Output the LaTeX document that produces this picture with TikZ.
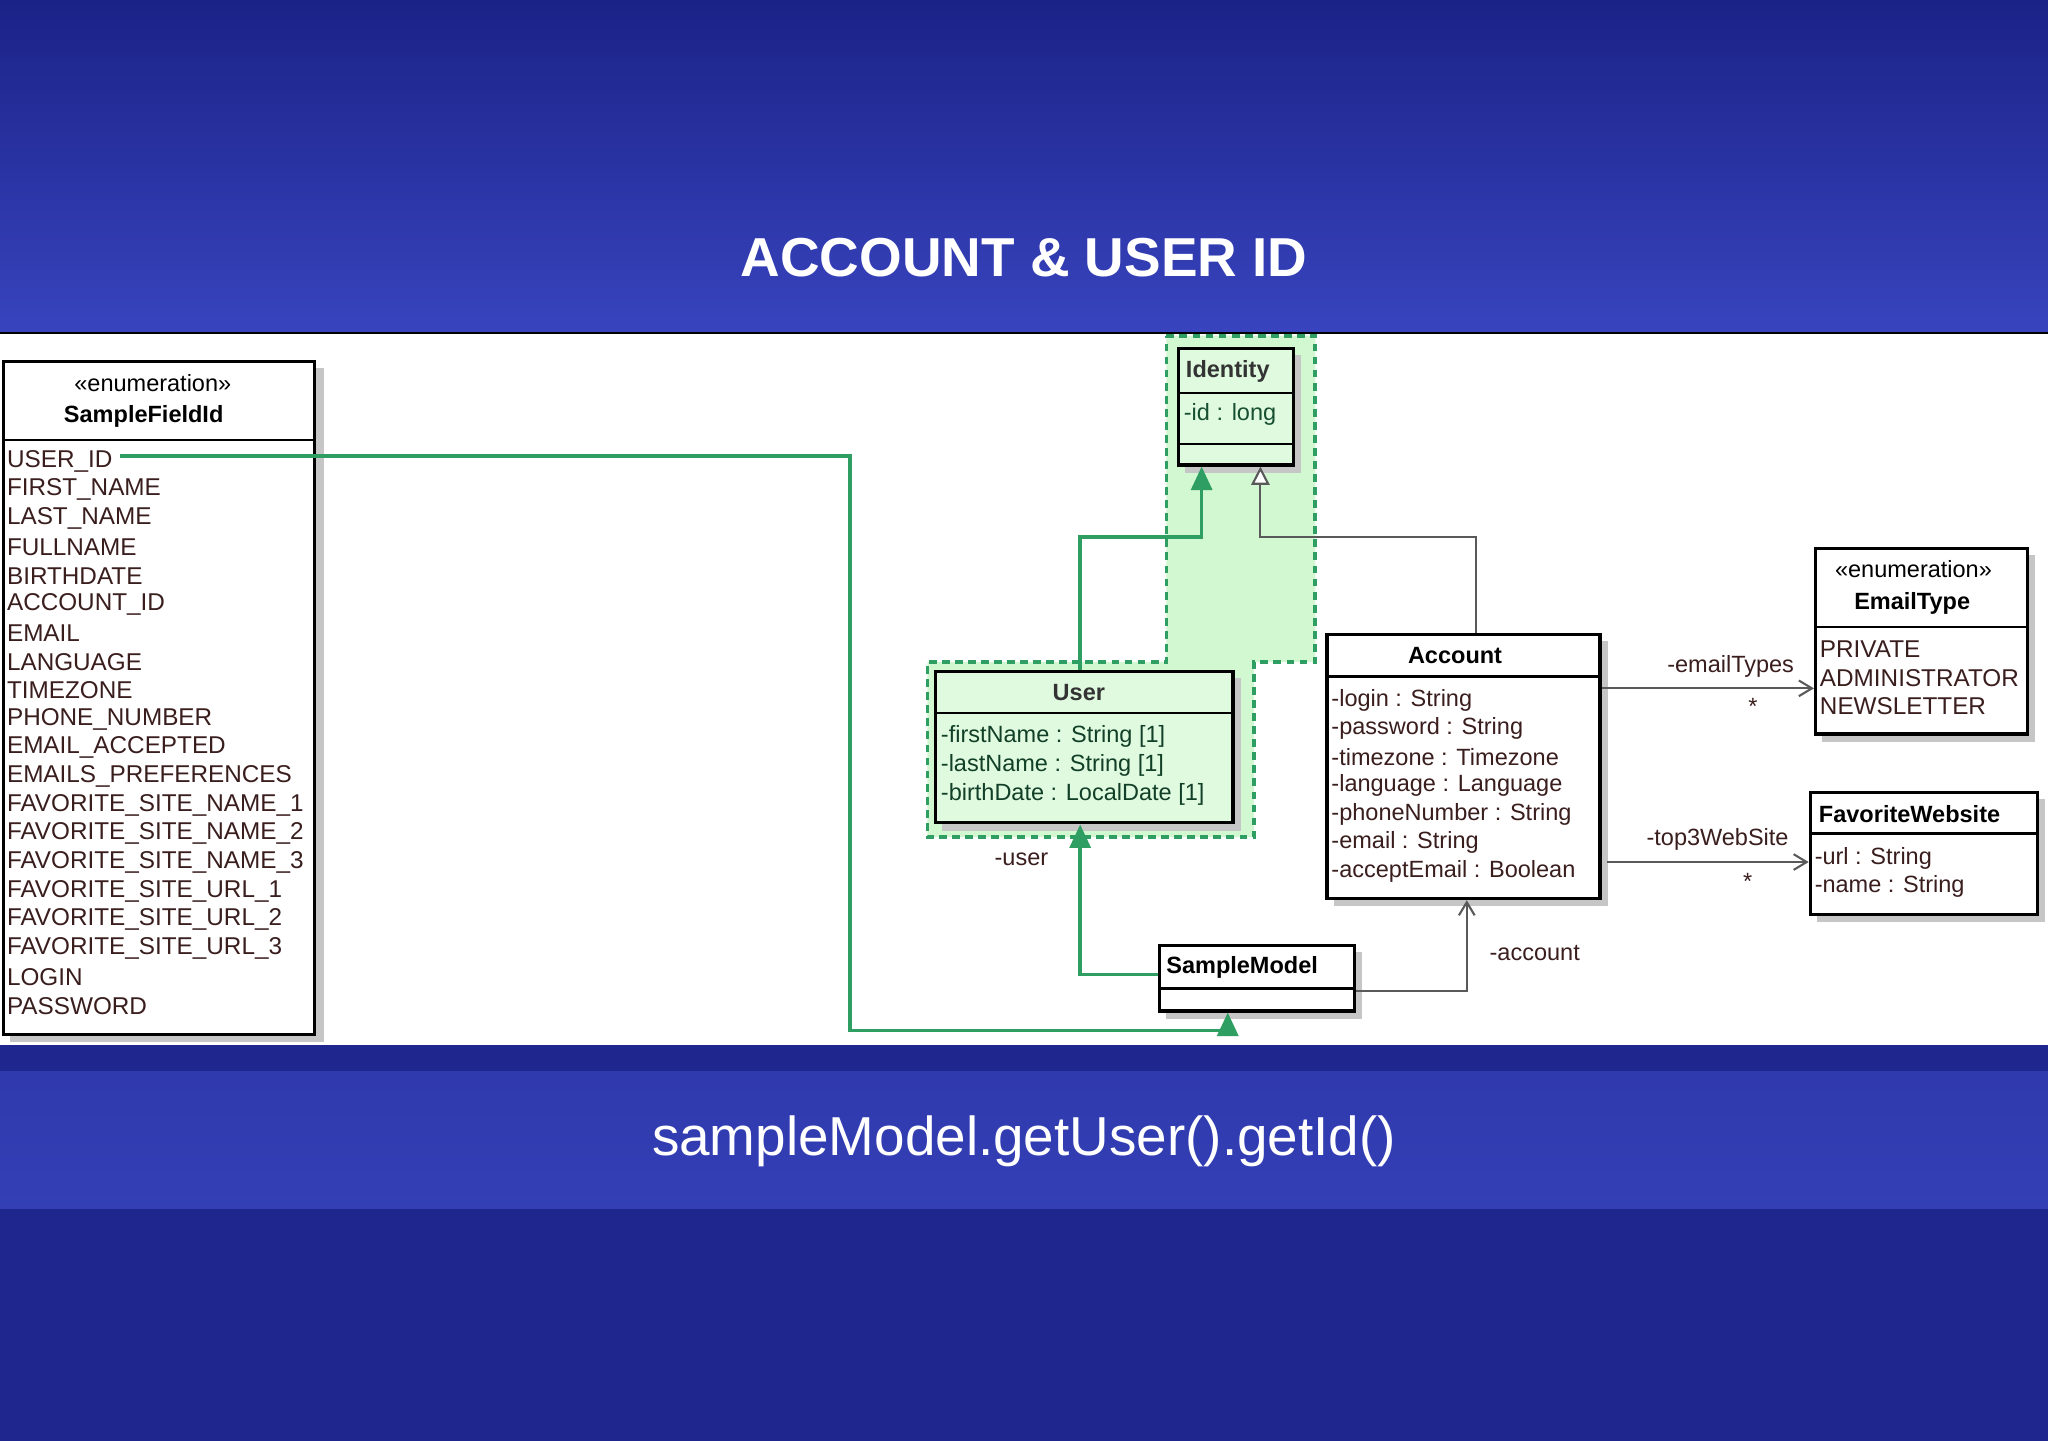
\documentclass[tikz,border=0pt]{standalone}
\usepackage{fontspec}
\setmainfont{Liberation Sans}
\usetikzlibrary{fit,arrows.meta}
\definecolor{bgdark}{HTML}{1B2287}
\definecolor{bglight}{HTML}{3844BE}
\definecolor{umlgreen}{HTML}{2E9E62}
\definecolor{zone}{HTML}{D2F8D2}
\definecolor{txt}{HTML}{3A1E1E}
\tikzset{
 box/.style={draw=black,line width=1.2pt,fill=white,inner sep=0pt},
 gbox/.style={box,fill=zone!70!white},
 sh/.style={fill=gray!45,draw=none},
 lbl/.style={font=\fontsize{9}{10}\selectfont,text=txt,inner sep=0pt,anchor=west},
 enl/.style={lbl,font=\fontsize{9.3}{10}\selectfont},
 ttl/.style={font=\fontsize{9}{10}\selectfont\bfseries,text=black,inner sep=0pt},
 glink/.style={draw=umlgreen,line width=1.4pt},
 gray link/.style={draw=gray!70!black,line width=0.8pt},
 garrow/.style={-{Triangle[length=9pt,width=8pt]}},
 openinh/.style={-{Triangle[open,length=7pt,width=7pt,fill=white]}},
 openarr/.style={-{Straight Barb[length=5pt,width=6pt]}},
}
\begin{document}
\begin{tikzpicture}[x=0.5pt,y=-0.5pt]
\useasboundingbox (0,0) rectangle (1568,1103);
\shade[top color=bgdark,bottom color=bglight] (0,0) rectangle (1568,255);
\fill[bgdark!85!bglight] (0,800) rectangle (1568,1103);
\shade[top color=bglight!70!bgdark,bottom color=bglight!85!bgdark] (0,820) rectangle (1568,925);
\fill[white] (0,255) rectangle (1568,800);
\draw[black,line width=1pt] (0,255) -- (1568,255);
\node[font=\fontsize{21}{24}\selectfont\bfseries,text=white] (title) at (784,197) {ACCOUNT \& USER ID};
\node[font=\fontsize{21}{24}\selectfont,text=white] (code) at (784,874) {sampleModel.getUser().getId()};

\fill[zone,draw=umlgreen,line width=1.4pt,dash pattern=on 3pt off 2pt]
 (893,257) -- (1007,257) -- (1007,507) -- (960,507) -- (960,641) -- (710,641) -- (710,507) -- (893,507) -- cycle;

\fill[sh] (8,282) rectangle (248,798);
\fill[sh] (907,272) rectangle (996,362);
\fill[sh] (721,519) rectangle (950,636);
\fill[sh] (1021,491) rectangle (1231,694);
\fill[sh] (1395,425) rectangle (1558,568);
\fill[sh] (1391,612) rectangle (1566,706);
\fill[sh] (893,729) rectangle (1043,780);

\node[box,fit={(3,277)(241,792)}] (sfi) {};
\draw[line width=1pt] (3,337) -- (241,337);
\node[font=\fontsize{9}{10}\selectfont,inner sep=0pt] (sfis) at (117,293) {«enumeration»};
\node[ttl] (sfin) at (110,319) {SampleFieldId};
\foreach \t [count=\i from 0] in {USER\_ID,FIRST\_NAME,LAST\_NAME,FULLNAME,BIRTHDATE,ACCOUNT\_ID,EMAIL,LANGUAGE,TIMEZONE,PHONE\_NUMBER,EMAIL\_ACCEPTED,EMAILS\_PREFERENCES,FAVORITE\_SITE\_NAME\_1,FAVORITE\_SITE\_NAME\_2,FAVORITE\_SITE\_NAME\_3,FAVORITE\_SITE\_URL\_1,FAVORITE\_SITE\_URL\_2,FAVORITE\_SITE\_URL\_3,LOGIN,PASSWORD}
  \node[enl] (f\i) at (5,353+21.95*\i) {\t};

\node[gbox,fit={(902,267)(990,356)}] (identity) {};
\draw[line width=1pt] (902,301) -- (990,301) (902,340) -- (990,340);
\node[ttl,text=black!80] (idn) at (940,284) {Identity};
\node[lbl,text=umlgreen!50!black] (ida) at (906,317) {-id : long};

\node[gbox,fit={(716,514)(944,630)}] (user) {};
\draw[line width=1pt] (716,546) -- (944,546);
\node[ttl,text=black!80] (usern) at (826,530) {User};
\node[lbl,text=umlgreen!40!black] (u1) at (720,564) {-firstName : String [1]};
\node[lbl,text=umlgreen!40!black] (u2) at (720,586) {-lastName : String [1]};
\node[lbl,text=umlgreen!40!black] (u3) at (720,608) {-birthDate : LocalDate [1]};

\node[box,fit={(1016,486)(1225,688)}] (account) {};
\draw[line width=1pt] (1016,518) -- (1225,518);
\node[ttl] (accn) at (1114,502) {Account};
\foreach \t [count=\i from 0] in {-login : String,-password : String,-timezone : Timezone,-language : Language,-phoneNumber : String,-email : String,-acceptEmail : Boolean}
  \node[lbl] (a\i) at (1019,536+21.8*\i) {\t};

\node[box,fit={(1390,420)(1552,562)}] (emailtype) {};
\draw[line width=1pt] (1390,480) -- (1552,480);
\node[font=\fontsize{9}{10}\selectfont,inner sep=0pt] (ets) at (1465,436) {«enumeration»};
\node[ttl] (etn) at (1464,462) {EmailType};
\node[enl] (e1) at (1393,497) {PRIVATE};
\node[enl] (e2) at (1393,519) {ADMINISTRATOR};
\node[enl] (e3) at (1393,541) {NEWSLETTER};

\node[box,fit={(1386,607)(1560,700)}] (fav) {};
\draw[line width=1pt] (1386,638) -- (1560,638);
\node[ttl] (favn) at (1462,623) {FavoriteWebsite};
\node[lbl] (fv1) at (1389,657) {-url : String};
\node[lbl] (fv2) at (1389,679) {-name : String};

\node[box,fit={(888,724)(1037,774)}] (sm) {};
\draw[line width=1pt] (888,757) -- (1037,757);
\node[ttl] (smn) at (951,741) {SampleModel};

\coordinate (uid) at (92,349);
\draw[glink,garrow] (uid) -- (651,349) -- (651,789) -- (940,789) -- (sm.south -| 940,0);
\draw[glink,garrow] (user.north -| 827,0) -- (827,411) -- (920,411) -- (identity.south -| 920,0);
\draw[gray link,openinh] (account.north -| 1130,0) -- (1130,411) -- (965,411) -- (identity.south -| 965,0);
\draw[glink,garrow] (sm.west |- 0,746) -- (827,746) -- (user.south -| 827,0);
\draw[gray link,openarr] (sm.east |- 0,759) -- (1123,759) -- (account.south -| 1123,0);
\draw[gray link,openarr] (account.east |- 0,527) -- (emailtype.west |- 0,527);
\draw[gray link,openarr] (1230,660) -- (fav.west |- 0,660);
\node[lbl,anchor=center] (luser) at (782,658) {-user};
\node[lbl,anchor=center] (lacc) at (1175,730) {-account};
\node[lbl,anchor=center] (let) at (1325,510) {-emailTypes};
\node[lbl,anchor=center] (lets) at (1342,541) {*};
\node[lbl,anchor=center] (ltop) at (1315,643) {-top3WebSite};
\node[lbl,anchor=center] (ltops) at (1338,675) {*};
\end{tikzpicture}
\end{document}
